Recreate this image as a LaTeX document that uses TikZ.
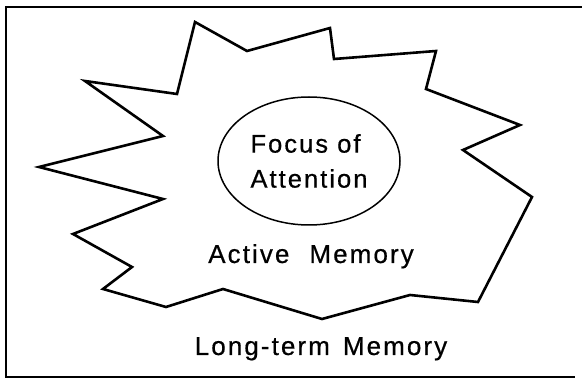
\documentclass[tikz,border=0pt]{standalone}
\usepackage{fontspec}
\setmainfont{Liberation Sans}[LetterSpace=8,FakeBold=0.6]
\usetikzlibrary{shapes}
\tikzset{
  star line/.style={line width=2.6pt,line join=miter},
  frame line/.style={line width=1.8pt},
  memory text/.style={font=\fontsize{26}{35}\selectfont,inner sep=0pt},
  focus node/.style={ellipse,draw,line width=1.5pt,inner sep=0pt,
    minimum width=182pt,minimum height=128pt,align=left,
    font=\fontsize{25.5}{35}\selectfont}
}

\begin{document}
\begin{tikzpicture}[x=1pt,y=-1pt]
  \useasboundingbox (0,0) rectangle (582,379);
  % outer frame (right side cut off)
  \draw[frame line] (582,7) -- (6,7) -- (6,377) -- (575,377);
  % active memory burst
  \draw[star line] (195,22) -- (247,51) -- (330,28) -- (334,59) -- (436,51)
    -- (426,89) -- (520,125) -- (463,150) -- (532,197) -- (478,302)
    -- (410,295) -- (322,319) -- (223,289) -- (166,307) -- (103,289)
    -- (132,267) -- (73,234) -- (163,199) -- (39,167) -- (163,136)
    -- (85,81) -- (177,94) -- cycle;
  \node[focus node] (focus) at (309,161) {Focus of\\Attention};
  \node[memory text,anchor=base] (active) at (311,263) {Active\hspace{20pt}Memory};
  \node[memory text,anchor=base] (longterm) at (321,355) {Long-term\hspace{13pt}Memory};
\end{tikzpicture}
\end{document}
